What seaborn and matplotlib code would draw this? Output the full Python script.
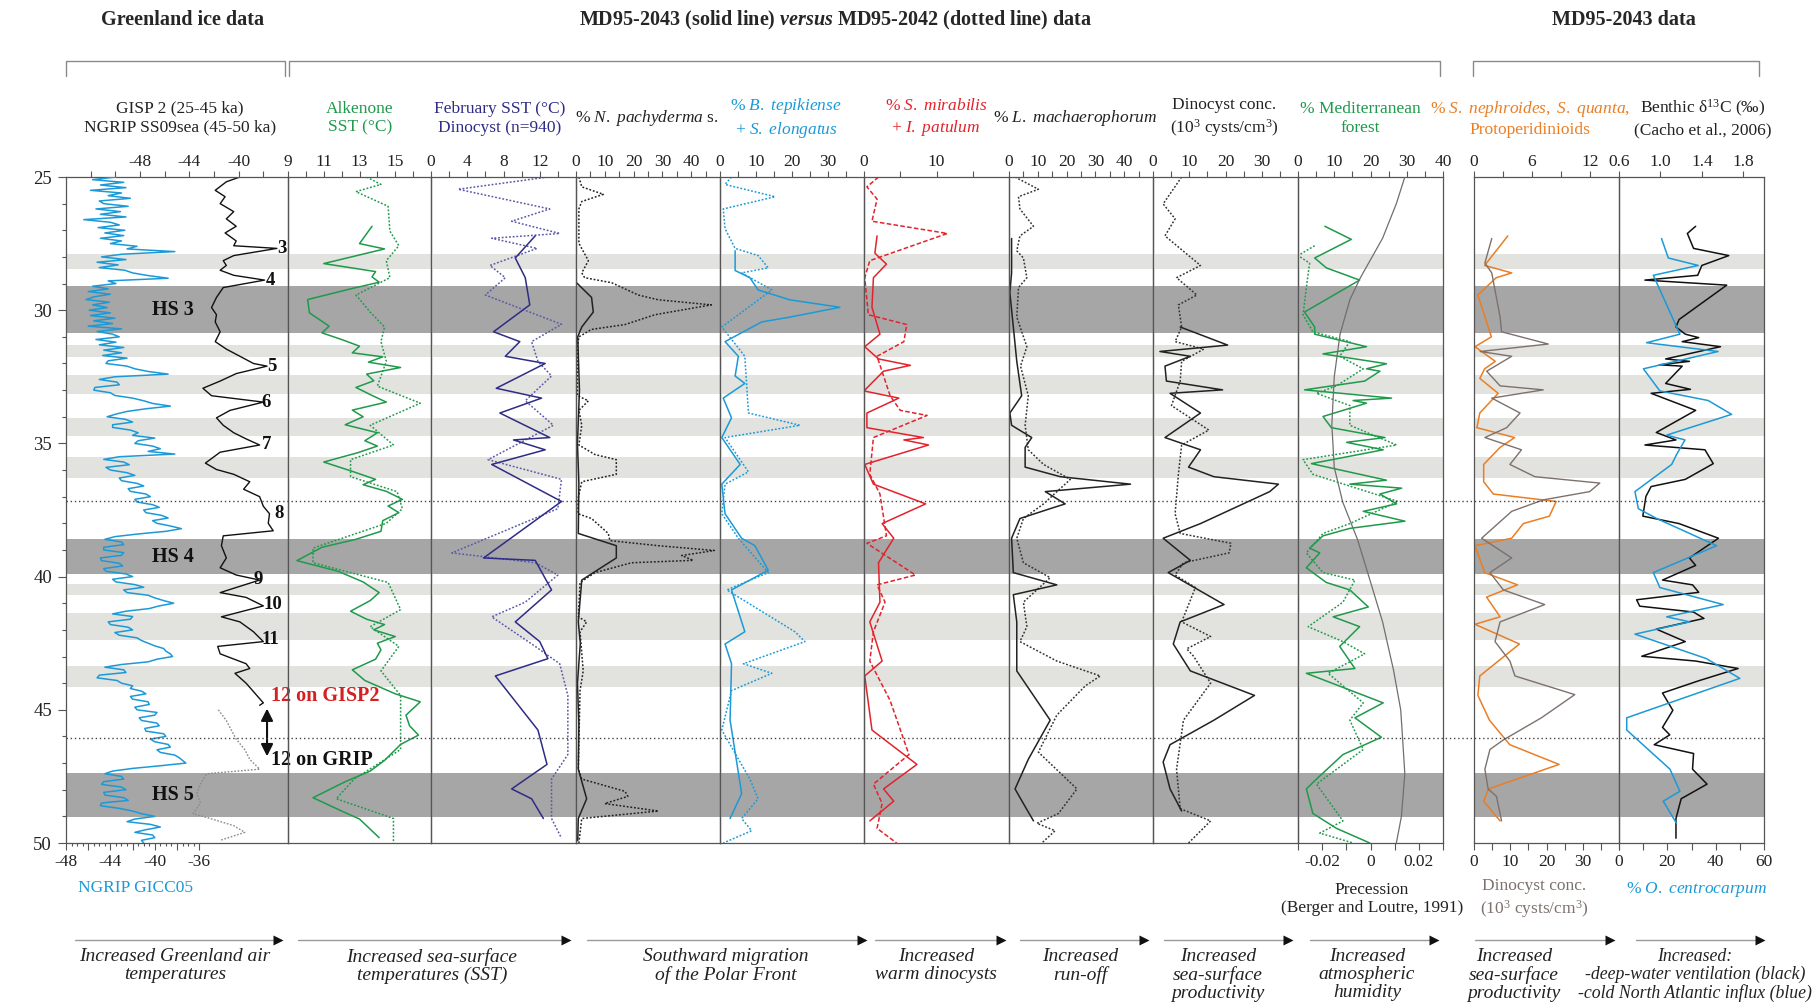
import numpy as np
import seaborn as sns
import matplotlib.pyplot as plt
from matplotlib import transforms

sns.set_theme(style="white")
plt.rcParams['font.family'] = ['Liberation Serif', 'DejaVu Serif']
plt.rcParams['mathtext.fontset'] = 'custom'
plt.rcParams['mathtext.rm'] = 'Liberation Serif'
plt.rcParams['mathtext.it'] = 'Liberation Serif:style=italic'
plt.rcParams['mathtext.bf'] = 'Liberation Serif:style=italic:weight=bold'

# ---------------- data (age in cal. ka BP) ----------------
# Greenland ice: NGRIP GICC05, one value every 0.1 ka from 25 to 50 ka
ngrip_gicc05 = [
    -43.5, -45.6, -42.8, -44.9, -42.6, -45.8, -43.0, -44.2, -42.2, -45.0,
    -44.6, -42.4, -45.3, -43.1, -44.9, -42.6, -46.4, -44.0, -43.2, -45.1,
    -42.7, -44.5, -42.8, -44.9, -43.0, -44.0, -41.6, -42.5, -38.2, -43.0,
    -44.8, -42.6, -45.2, -43.3, -45.0, -42.7, -42.0, -40.6, -38.8, -44.2,
    -43.5, -45.6, -44.2, -46.0, -44.0, -45.5, -46.2, -44.1, -45.6, -44.3,
    -45.9, -44.0, -45.8, -43.6, -45.5, -43.8, -46.0, -43.0, -45.2, -43.8,
    -43.2, -45.3, -43.5, -45.0, -42.8, -44.6, -43.0, -44.7, -42.5, -44.2,
    -44.4, -42.5, -41.8, -40.6, -38.8, -43.6, -45.0, -43.4, -43.2, -45.4,
    -45.5, -44.0, -43.6, -42.0, -41.0, -40.2, -38.6, -40.8, -42.5, -43.5,
    -44.3, -42.6, -42.0, -43.8, -43.8, -42.2, -41.5, -42.0, -40.0, -41.5,
    -41.8, -40.2, -39.5, -40.6, -38.2, -43.2, -44.6, -42.8, -42.3, -44.4,
    -44.0, -42.5, -41.8, -43.2, -43.0, -41.6, -41.0, -42.4, -42.2, -40.8,
    -40.4, -41.8, -41.6, -40.2, -39.6, -41.0, -40.8, -39.4, -38.8, -40.2,
    -39.8, -38.6, -37.6, -39.0, -41.5, -43.6, -44.5, -43.0, -42.8, -44.6,
    -44.6, -42.8, -43.0, -44.9, -44.8, -43.2, -42.9, -44.6, -44.4, -42.6,
    -42.0, -43.8, -43.5, -41.8, -41.0, -42.8, -42.5, -40.6, -40.0, -39.2,
    -38.3, -39.6, -40.5, -42.6, -43.8, -42.0, -42.2, -44.2, -44.0, -42.4,
    -42.0, -43.6, -43.2, -41.6, -41.2, -40.6, -40.0, -39.2, -39.0, -38.6,
    -38.4, -39.8, -40.6, -43.0, -44.5, -42.8, -42.6, -45.0, -45.2, -43.4,
    -43.0, -42.0, -42.2, -41.2, -40.8, -42.2, -42.0, -40.6, -40.5, -41.8,
    -41.6, -39.8, -40.0, -41.4, -41.2, -39.8, -39.6, -40.9, -40.8, -39.2,
    -39.0, -40.4, -40.0, -38.8, -38.6, -39.8, -39.5, -38.2, -37.8, -37.5,
    -37.2, -39.5, -42.0, -43.8, -44.5, -43.0, -42.8, -44.6, -44.8, -43.0,
    -42.6, -44.6, -44.5, -42.8, -42.4, -44.8, -44.9, -43.2, -42.0, -41.2,
    -40.0, -41.8, -42.5, -40.4, -39.5, -40.8, -41.8, -40.2, -40.0, -41.2,
    -41.0]
ngrip_age = np.linspace(25, 50, len(ngrip_gicc05))

gisp2_age = [25.0, 25.18, 25.5, 25.74, 26.0, 26.3, 26.57, 26.85, 27.1, 27.4, 27.58, 27.68,
             27.95, 28.14, 28.32, 28.5, 28.69, 28.87, 29.15, 29.52, 29.9, 30.17, 30.44,
             30.81, 31.18, 31.46, 31.73, 32.0, 32.1, 32.38, 32.66, 32.93, 33.21, 33.45,
             33.76, 34.04, 34.32, 34.6, 34.83, 35.06, 35.33, 35.74, 35.98, 36.16, 36.44,
             36.72, 37.0, 37.36, 37.64, 38.0, 38.28, 38.47, 38.84, 39.3, 39.67, 39.94,
             40.13, 40.6, 40.78, 41.1, 41.51, 41.7, 42.07, 42.44, 42.62, 42.9, 43.27,
             43.45, 43.63, 44.0, 44.37, 44.74, 44.83]
gisp2_d18o = [-39.9, -41.0, -41.9, -41.1, -41.5, -40.4, -41.0, -40.2, -41.1, -40.2, -40.4, -36.9,
              -40.4, -41.25, -41.0, -41.5, -40.4, -37.9, -41.25, -41.8, -42.2, -41.8, -41.9,
              -41.5, -41.9, -41.0, -39.9, -38.8, -37.7, -40.2, -41.5, -42.9, -42.2, -38.0,
              -40.7, -41.8, -41.25, -40.4, -39.4, -38.3, -41.5, -42.7, -41.8, -40.4, -39.1,
              -39.6, -38.3, -38.0, -37.5, -37.6, -37.2, -41.25, -41.4, -41.0, -41.5, -40.2,
              -38.3, -41.5, -39.4, -38.0, -41.4, -39.9, -38.8, -38.0, -41.7, -41.5, -39.4,
              -39.1, -40.3, -39.4, -38.7, -38.0, -38.3]
ss09_age = [45.0, 45.4, 45.76, 46.1, 46.5, 46.86, 47.23, 47.4, 47.8, 48.15, 48.5, 48.9,
            49.08, 49.35, 49.6, 49.9]
ss09_d18o = [-41.65, -41.0, -40.6, -40.2, -39.5, -39.1, -38.3, -42.6, -43.1, -43.4, -43.1,
             -43.7, -42.3, -40.4, -39.5, -41.5]

# Alkenone SST
alk43_age = [26.85, 27.5, 27.7, 28.25, 28.55, 28.75, 28.95, 29.2, 29.6, 30.1, 30.6, 30.85,
             31.1, 31.35, 31.6, 31.75, 31.95, 32.15, 32.4, 32.65, 32.9, 33.2, 33.45, 33.75,
             34.0, 34.3, 34.6, 34.9, 35.1, 35.35, 35.7, 36.05, 36.35, 36.55, 36.8, 37.1,
             37.35, 37.6, 37.9, 38.3, 38.6, 38.9, 39.4, 39.8, 40.2, 40.6, 40.9, 41.3, 41.6,
             41.8, 42.0, 42.25, 42.5, 42.75, 43.1, 43.5, 43.9, 44.4, 44.7, 45.2, 45.6,
             45.95, 46.3, 46.9, 47.3, 47.7, 48.3, 48.8, 49.1, 49.8]
alk43_sst = [13.7, 13.0, 14.4, 11.0, 13.9, 13.7, 14.1, 12.5, 10.1, 10.2, 11.3, 10.9,
             12.0, 13.0, 12.6, 14.3, 13.5, 15.3, 13.4, 13.8, 12.8, 13.7, 14.5, 12.6,
             13.2, 12.2, 14.0, 13.3, 14.0, 12.9, 11.0, 12.6, 13.9, 13.2, 14.5, 15.4,
             14.6, 15.2, 14.3, 14.2, 12.8, 10.9, 9.5, 11.8, 13.2, 14.1, 13.6, 12.5, 13.4,
             14.4, 13.8, 15.0, 14.0, 14.2, 13.9, 12.6, 13.3, 15.0, 16.4, 15.6, 15.8,
             16.3, 15.3, 14.4, 13.6, 12.2, 10.4, 12.0, 13.0, 14.1]
alk42_age = [25.0, 25.28, 25.55, 26.1, 27.03, 27.58, 28.14, 28.78, 29.43, 30.07, 30.63, 31.18,
             31.92, 32.85, 33.49, 34.32, 35.06, 35.61, 36.25, 36.81, 37.45, 38.0, 38.93,
             39.48, 40.22, 41.24, 41.88, 42.62, 43.54, 44.46, 46.49, 47.6, 48.34, 49.08, 50.0]
alk42_sst = [13.4, 14.2, 12.8, 14.6, 14.7, 15.2, 14.5, 14.7, 12.8, 13.6, 14.4, 14.2,
             14.5, 14.0, 16.4, 13.6, 14.9, 12.5, 12.5, 15.1, 15.4, 14.5, 10.4,
             10.4, 14.6, 15.3, 13.6, 15.2, 14.2, 15.3, 15.3, 12.7, 11.7, 14.9, 14.9]

# February SST (dinocysts)
feb43_age = [27.21, 28.04, 28.78, 29.8, 30.81, 31.18, 31.73, 32.0, 32.93, 33.3, 33.86, 34.78,
             34.87, 35.24, 35.79, 37.18, 39.3, 39.39, 40.5, 41.7, 42.44, 43.08, 43.73,
             45.76, 47.05, 47.97, 48.34, 49.08]
feb43_sst = [11.5, 9.3, 10.4, 10.9, 6.9, 9.8, 8.2, 12.6, 7.2, 12.2, 7.6, 13.1,
             9.1, 12.6, 6.7, 14.4, 5.8, 11.5, 13.3, 9.3, 12.0, 12.9, 7.1,
             11.8, 12.8, 8.9, 11.1, 12.4]
feb42_age = [25.0, 25.46, 26.2, 26.66, 27.12, 27.3, 27.68, 28.32, 28.78, 29.43, 30.53, 31.18,
             31.92, 32.47, 33.4, 34.32, 35.61, 36.35, 37.45, 39.11, 39.48, 39.94, 40.96,
             41.51, 42.62, 43.27, 44.46, 46.68, 47.6, 49.08, 49.82]
feb42_sst = [12.9, 3.0, 13.1, 8.9, 14.2, 6.7, 11.7, 6.5, 8.2, 6.0, 14.4, 11.1,
             11.8, 13.3, 10.4, 13.5, 6.3, 14.4, 14.0, 2.3, 11.5, 14.0, 10.4,
             6.7, 11.5, 14.2, 15.1, 15.1, 13.3, 13.3, 14.4]

# % N. pachyderma s.
pach42_age = [25.0, 25.37, 25.65, 25.92, 26.2, 27.49, 28.14, 28.6, 28.78, 28.97, 29.43, 29.61,
              29.8, 30.17, 30.54, 30.72, 31.0, 31.37, 33.21, 33.4, 33.76, 34.32, 35.06, 35.42,
              35.61, 36.16, 36.44, 37.08, 37.64, 37.82, 38.38, 38.65, 38.84, 39.02, 39.21,
              39.39, 39.48, 39.85, 40.22, 41.51, 41.7, 42.07, 43.54, 44.28, 47.23, 47.6,
              48.06, 48.25, 48.52, 48.8, 49.08, 50.0]
pach42_pct = [1.0, 2.0, 9.5, 2.0, 1.0, 1.0, 4.3, 2.0, 3.0, 12.4, 21.6, 28.6,
              47.0, 27.4, 17.0, 5.4, 1.0, 0.5, 0.5, 4.3, 1.0, 2.0, 1.0, 6.6,
              14.0, 14.0, 2.0, 0.7, 0.7, 5.4, 11.2, 11.8, 28.6, 48.0, 36.7,
              40.7, 19.3, 6.6, 1.4, 0.8, 3.7, 1.4, 2.5, 1.4, 0.8, 2.0,
              17.0, 18.0, 10.0, 28.6, 2.0, 1.0]
pach43_age = [28.97, 29.52, 30.07, 30.63, 31.0, 33.0, 35.0, 36.5, 38.38, 38.84, 39.3, 40.13,
              41.7, 42.5, 44.0, 45.5, 47.23, 48.34, 49.08, 49.91]
pach43_pct = [0.2, 5.4, 6.0, 2.0, 0.6, 1.2, 0.5, 1.0, 0.8, 14.0, 14.0, 2.0,
              0.8, 1.5, 0.5, 1.0, 0.8, 3.7, 0.8, 0.6]

# % B. tepikiense + S. elongatus
tep42_age = [25.0, 25.28, 25.74, 26.2, 26.94, 27.68, 27.95, 28.41, 28.6, 29.24, 30.63, 31.73,
             33.86, 34.32, 34.78, 36.07, 36.53, 37.64, 38.56, 39.85, 40.5, 42.07, 42.44,
             43.27, 43.63, 44.28, 45.76, 47.6, 48.34, 49.08, 49.54, 50.0]
tep42_pct = [3.2, 1.4, 15.3, 0.9, 1.4, 4.2, 10.6, 13.4, 6.0, 14.4, 0.5, 6.9,
             7.9, 22.2, 1.4, 7.9, 1.4, 0.5, 5.1, 13.4, 1.9, 20.8, 23.6,
             6.5, 14.4, 3.2, 0.5, 8.3, 10.6, 6.0, 8.8, 0.9]
tep43_age = [27.77, 28.51, 28.78, 29.24, 29.61, 29.89, 30.26, 30.44, 31.18, 31.73, 32.47, 32.75,
             33.3, 34.04, 34.78, 35.79, 36.53, 37.64, 38.56, 38.84, 39.76, 40.5, 42.07,
             42.53, 43.27, 45.39, 47.79, 48.15, 49.08]
tep43_pct = [4.2, 4.2, 8.3, 10.6, 19.4, 33.3, 19.4, 11.6, 1.4, 5.1, 4.2, 6.9,
             0.9, 3.2, 0.5, 5.6, 0.5, 1.4, 6.0, 9.7, 13.4, 3.2, 6.9,
             1.4, 3.2, 2.8, 5.6, 6.0, 2.8]

# % S. mirabilis + I. patulum
mir42_age = [25.0, 25.37, 25.83, 26.66, 27.12, 28.14, 28.78, 30.17, 30.54, 31.18, 31.73, 33.21,
             33.76, 33.95, 34.78, 36.16, 36.9, 38.47, 38.75, 39.94, 40.31, 40.96, 42.07,
             43.17, 44.65, 46.68, 47.79, 48.52, 49.45, 50.0]
mir42_pct = [2.0, 0.4, 1.8, 1.1, 11.5, 0.8, 0.1, 0.6, 5.9, 5.5, 1.8, 3.6,
             5.0, 8.7, 1.3, 0.8, 2.2, 3.1, 0.4, 7.1, 1.8, 2.9, 1.3,
             0.8, 3.6, 6.2, 1.3, 2.5, 1.8, 4.5]
mir43_age = [27.21, 27.86, 28.27, 28.78, 29.89, 30.9, 31.37, 31.83, 32.07, 32.29, 33.03, 33.3,
             33.86, 34.41, 34.78, 34.87, 35.06, 35.79, 36.53, 37.27, 38.01, 38.56, 39.48,
             40.96, 41.7, 43.17, 43.73, 45.76, 47.05, 47.97, 48.43, 49.17]
mir43_pct = [1.8, 1.5, 3.1, 1.3, 1.1, 2.2, 0.1, 2.0, 6.4, 2.7, 0.0, 4.8,
             0.4, 0.4, 8.2, 5.5, 8.9, 0.1, 1.3, 8.5, 2.5, 4.1, 2.0,
             2.2, 0.8, 2.5, 0.1, 1.1, 7.3, 2.7, 4.1, 0.8]

# % L. machaerophorum
lma42_age = [25.0, 25.46, 25.74, 26.2, 26.85, 27.21, 27.77, 28.04, 28.78, 29.15, 30.26, 31.37,
             32.1, 33.21, 34.32, 35.24, 35.79, 36.35, 37.27, 37.82, 38.56, 39.48, 40.04,
             40.96, 41.88, 42.44, 43.17, 43.73, 44.1, 45.2, 46.59, 47.97, 48.89, 49.26,
             49.54, 50.0]
lma42_pct = [2.1, 10.2, 3.3, 3.8, 8.5, 3.8, 2.7, 5.0, 6.2, 3.3, 2.7, 6.2,
             4.0, 6.7, 5.6, 6.7, 12.0, 21.3, 12.0, 5.0, 2.7, 5.0, 14.3,
             5.0, 6.2, 3.8, 16.6, 31.7, 26.5, 16.6, 10.2, 23.6, 17.2, 9.7,
             16.0, 11.4]
lma43_age = [27.31, 28.6, 29.34, 30.63, 31.92, 33.21, 33.86, 34.32, 34.78, 35.15, 35.89, 36.25,
             36.53, 36.81, 37.27, 37.45, 37.82, 38.56, 39.85, 40.31, 40.68, 41.7, 43.54,
             45.39, 46.86, 47.97, 48.52, 49.17]
lma43_pct = [0.9, 0.9, 0.3, 1.5, 2.7, 4.4, 0.3, 0.9, 7.9, 5.6, 5.6, 17.8,
             42.2, 12.6, 19.5, 14.3, 3.8, 0.9, 1.5, 16.6, 1.5, 2.7, 2.7,
             14.3, 6.7, 2.1, 5.0, 8.5]

# Dinocyst concentration (10^3 cysts/cm3)
dc42_age = [25.0, 26.01, 26.57, 27.21, 28.32, 28.78, 29.43, 29.8, 30.63, 31.18, 31.46, 31.92,
            32.66, 33.58, 34.5, 35.06, 36.16, 37.64, 38.38, 38.75, 39.11, 39.48, 39.94,
            40.41, 41.7, 42.25, 42.71, 42.99, 44.0, 45.39, 47.23, 48.71, 49.17, 50.0]
dc42_val = [7.9, 2.8, 6.1, 3.3, 13.1, 6.5, 12.1, 7.0, 7.9, 6.1, 14.0, 7.9,
            7.5, 5.1, 15.4, 7.9, 7.0, 6.1, 7.5, 21.5, 21.0, 8.4, 6.1,
            11.7, 7.9, 15.9, 9.3, 11.2, 15.9, 8.4, 6.5, 7.5, 15.9, 9.8]
dc43_age = [30.63, 31.31, 31.55, 31.73, 32.1, 32.66, 32.99, 33.12, 33.86, 34.78, 35.24, 35.89,
            36.25, 36.53, 36.81, 38.01, 38.56, 39.39, 39.85, 41.05, 41.7, 42.53, 43.54,
            44.46, 45.39, 46.31, 46.96, 47.97, 48.8]
dc43_val = [7.5, 20.6, 1.9, 10.3, 3.3, 3.7, 19.2, 4.7, 13.1, 3.3, 13.1, 9.8,
            16.8, 34.6, 32.2, 13.1, 2.8, 10.3, 4.2, 19.6, 7.5, 5.6, 10.3,
            28.0, 16.8, 4.7, 2.8, 4.7, 7.9]

# % Mediterranean forest and precession
for43_age = [26.85, 27.34, 28.04, 28.41, 28.87, 30.07, 30.63, 30.9, 31.37, 31.64, 32.01, 32.2,
             32.29, 32.66, 32.99, 33.3, 33.39, 33.49, 33.99, 34.41, 34.78, 34.96, 35.24,
             35.76, 36.38, 36.53, 36.68, 36.9, 37.27, 37.55, 37.92, 38.19, 38.47, 38.93,
             39.11, 39.67, 40.22, 40.5, 41.14, 41.51, 41.88, 42.62, 43.45, 43.63, 44.74,
             45.3, 46.03, 46.68, 47.6, 47.97, 48.89, 49.45, 50.0]
for43_pct = [7.4, 14.7, 4.6, 7.8, 17.0, 1.8, 4.6, 4.6, 18.9, 6.9, 24.4, 18.9,
             22.6, 18.4, 1.8, 25.8, 15.2, 18.9, 6.9, 9.2, 24.0, 13.4, 23.5,
             3.7, 24.4, 14.3, 28.6, 22.6, 27.2, 18.0, 29.5, 14.3, 6.9, 3.2,
             6.0, 2.3, 7.8, 14.3, 19.4, 9.7, 17.0, 11.5, 15.7, 2.3, 23.5,
             15.7, 23.0, 12.4, 5.1, 2.3, 4.1, 10.6, 19.8]
for42_age = [27.58, 27.95, 28.23, 29.15, 30.17, 30.81, 31.18, 31.73, 32.2, 32.84, 33.12, 33.58,
             34.32, 35.06, 35.61, 36.16, 37.18, 38.01, 38.38, 39.11, 39.85, 40.13, 40.96,
             41.88, 42.44, 42.9, 43.63, 44.74, 45.39, 46.49, 47.79, 49.17, 49.63, 50.0]
for42_pct = [4.6, 0.0, 3.2, 2.3, 1.4, 4.1, 14.3, 11.5, 18.0, 10.6, 5.1, 14.3,
             14.3, 27.2, 1.4, 4.1, 27.6, 14.3, 6.9, 2.3, 6.9, 15.7, 12.4,
             2.8, 12.4, 18.4, 8.3, 18.0, 14.3, 18.0, 5.1, 12.4, 6.0, 15.2]
prec_age = [25.0, 26.0, 27.3, 28.8, 29.6, 30.9, 32.5, 34.3, 35.9, 37.2, 38.6, 40.2, 41.7,
            43.5, 45.0, 46.1, 47.4, 49.0, 50.0]
prec_val = [0.0142, 0.0107, 0.005, -0.0043, -0.0085, -0.0126, -0.0150, -0.0160, -0.0150,
            -0.0115, -0.0054, 0.0, 0.005, 0.0095, 0.0125, 0.0133, 0.0142, 0.0128, 0.0107]

# MD95-2043: S. nephroides/S. quanta/Protoperidinioids and dinocyst conc.
neph_age = [27.21, 28.32, 28.6, 28.78, 29.43, 31.0, 31.37, 31.92, 32.2, 32.56, 33.12, 33.86,
            34.41, 34.78, 35.15, 35.79, 36.44, 36.9, 37.18, 37.73, 38.01, 38.56, 38.84,
            39.85, 40.31, 40.77, 41.51, 41.79, 42.53, 43.73, 44.46, 45.39, 46.31, 47.05,
            47.97, 48.43, 49.17]
neph_pct = [3.5, 1.1, 3.9, 2.3, 0.4, 1.8, 0.1, 2.2, 1.1, 0.6, 2.5, 0.6,
            0.3, 4.2, 2.7, 1.0, 1.0, 2.0, 8.5, 7.8, 5.1, 3.9, 0.1,
            1.1, 4.5, 1.3, 2.7, 0.1, 4.7, 0.6, 0.4, 1.6, 3.7, 8.8,
            1.5, 1.0, 2.7]
conc_age = [27.31, 28.23, 28.6, 30.26, 30.81, 31.27, 31.55, 31.73, 32.29, 32.84, 32.99, 33.3,
            33.86, 34.41, 34.78, 35.24, 35.79, 36.25, 36.49, 36.81, 37.12, 37.55, 38.56,
            39.3, 39.85, 40.5, 41.05, 41.7, 42.44, 43.17, 43.73, 44.43, 45.3, 46.13, 46.49,
            47.23, 47.97, 48.25, 49.17]
conc_val = [4.9, 3.0, 4.9, 7.2, 7.6, 20.5, 1.7, 10.4, 3.5, 7.2, 19.1, 4.9,
            12.7, 9.0, 3.0, 13.1, 9.9, 16.8, 34.7, 31.9, 19.1, 10.4, 2.1,
            10.4, 4.4, 8.1, 19.5, 7.2, 5.8, 9.9, 11.3, 27.8, 18.6, 8.1, 4.4,
            3.0, 3.9, 6.2, 7.6]

# Benthic d13C and % O. centrocarpum
d13c_age = [26.85, 27.12, 27.68, 27.95, 28.32, 28.69, 28.87, 29.06, 30.35, 30.63, 30.9, 31.03,
            31.18, 31.37, 31.83, 31.92, 32.05, 32.1, 32.75, 32.97, 33.12, 33.76, 34.59,
            34.87, 35.06, 35.24, 35.76, 36.35, 36.62, 36.99, 37.73, 38.01, 38.56, 39.3,
            39.58, 40.13, 40.31, 40.59, 40.87, 41.11, 41.33, 41.57, 41.97, 42.44, 42.99,
            43.17, 43.45, 43.91, 44.37, 45.02, 45.66, 45.94, 46.31, 46.64, 47.23, 47.79,
            48.34, 49.08, 49.82]
d13c_val = [1.34, 1.26, 1.32, 1.66, 1.40, 1.36, 0.85, 1.64, 1.18, 1.15, 1.24, 1.37,
            1.21, 1.58, 1.05, 1.28, 0.99, 1.21, 1.05, 1.29, 0.91, 1.34, 0.96,
            1.15, 0.85, 1.43, 1.51, 1.24, 0.91, 0.86, 0.83, 1.18, 1.56, 1.28,
            1.34, 1.02, 1.31, 1.37, 0.77, 0.80, 1.32, 1.42, 0.96, 1.24, 0.82,
            1.34, 1.75, 1.37, 1.02, 1.12, 1.02, 1.09, 0.94, 1.32, 1.31, 1.45,
            1.20, 1.15, 1.15]
ocen_age = [27.31, 28.04, 28.32, 28.69, 30.9, 31.22, 31.55, 32.2, 33.03, 33.39, 33.91, 34.69,
            34.87, 35.42, 35.79, 36.81, 37.45, 37.82, 38.84, 39.85, 40.41, 41.05, 41.51,
            41.7, 42.16, 43.08, 43.82, 45.3, 45.76, 47.23, 48.06, 48.43, 49.26]
ocen_pct = [17.6, 20.4, 32.8, 14.2, 25.2, 11.4, 41.0, 10.1, 16.9, 36.9, 46.6, 19.7,
            27.3, 23.8, 21.8, 6.6, 8.0, 15.6, 40.4, 14.2, 16.9, 43.1, 19.7,
            29.3, 6.6, 36.2, 50.0, 3.2, 3.2, 21.1, 25.2, 18.3, 23.8]

# events
hs_bands = [(29.1, 30.87), (38.6, 39.9), (47.38, 49.02)]
gi_bands = [(27.9, 28.45), (31.29, 31.77), (32.44, 33.15), (34.04, 34.74), (35.5, 36.31),
            (40.26, 40.7), (41.37, 42.38), (43.36, 44.13)]
dotted_ages = [37.18, 46.07]

# ---------------- styling ----------------
BLUE = '#1b9ad7'
GREEN = '#1f9a4b'
NAVY = '#2e2c85'
RED = '#e3232c'
ORANGE = '#ea7e24'
BROWN = '#7d716d'
SPINE = '#555555'
FS = 12.5
DOT = (0, (1.2, 1.2))
DASH = (0, (3, 1.5))

W, H = 1816, 1005
TOP, BOT = 177, 843
fig = plt.figure(figsize=(W / 100, H / 100), dpi=100)
fig.patch.set_facecolor('white')


def make_panel(x0, x1, xlim, ticks, labels):
    ax = fig.add_axes([x0 / W, 1 - BOT / H, (x1 - x0) / W, (BOT - TOP) / H])
    ax.set_facecolor('none')
    for a, b in hs_bands:
        ax.axhspan(a, b, color='#a6a6a6', lw=0, zorder=0)
    for a, b in gi_bands:
        ax.axhspan(a, b, color='#e2e2de', lw=0, zorder=0)
    for s in ax.spines.values():
        s.set_color(SPINE)
        s.set_linewidth(0.9)
    ax.set_xlim(*xlim)
    ax.set_ylim(50, 25)
    ax.xaxis.set_ticks_position('top')
    ax.set_xticks(ticks)
    ax.set_xticklabels(labels)
    ax.tick_params(axis='x', direction='out', length=4, width=0.8, color=SPINE,
                   labelsize=FS, labelcolor='#222222', pad=1)
    ax.tick_params(axis='y', left=False, labelleft=False)
    return ax


def bottom_axis(ax, xlim, ticks, labels, minor=None):
    tw = ax.twiny()
    # twiny() moves the host ticks to the bottom: put them back on top
    ax.xaxis.set_ticks_position('top')
    tw.set_facecolor('none')
    for s in tw.spines.values():
        s.set_visible(False)
    tw.set_xlim(*xlim)
    tw.xaxis.set_ticks_position('bottom')
    tw.set_xticks(ticks)
    tw.set_xticklabels(labels)
    if minor is not None:
        tw.set_xticks(minor, minor=True)
    tw.tick_params(axis='x', which='major', direction='out', length=5, width=0.8,
                   color=SPINE, labelsize=FS, labelcolor='#222222', pad=3)
    tw.tick_params(axis='x', which='minor', direction='out', length=2.5, width=0.8,
                   color=SPINE)
    return tw


def prof(ax, vals, ages, color, ls='-', lw=1.1):
    xl, yl = ax.get_xlim(), ax.get_ylim()
    sns.lineplot(x=vals, y=ages, ax=ax, sort=False, estimator=None, color=color,
                 linestyle=ls, linewidth=lw)
    ax.set_xlim(*xl)
    ax.set_ylim(*yl)
    ax.set_xlabel('')
    ax.set_ylabel('')


def lab(vals, shown):
    return [('%g' % v if v in shown else '') for v in vals]


# panel 1: Greenland ice
t = [-52, -50, -48, -46, -44, -42, -40, -38]
ax1 = make_panel(66, 288, (-54, -36), t, lab(t, [-48, -44, -40]))
t = [-48, -46, -44, -42, -40, -38, -36]
ax1b = bottom_axis(ax1, (-48, -28), t, lab(t, [-48, -44, -40, -36]),
                   minor=np.arange(-48, -35.5, 0.5))
prof(ax1b, ngrip_gicc05, ngrip_age, BLUE, lw=1.1)
prof(ax1, gisp2_d18o, gisp2_age, '#111111', lw=1.0)
prof(ax1, ss09_d18o, ss09_age, '#8a8a8a', ls=DOT, lw=1.0)
ax1.tick_params(axis='y', which='major', left=True, labelleft=True, direction='out',
                length=6, width=0.8, color=SPINE, labelsize=FS + 1,
                labelcolor='#222222', pad=4)
ax1.set_yticks([25, 30, 35, 40, 45, 50])
ax1.set_yticks(np.arange(25, 51, 1), minor=True)
ax1.tick_params(axis='y', which='minor', left=True, direction='out', length=3,
                width=0.8, color=SPINE)
ax1.set_ylabel('Age (cal. ka BP)', fontsize=FS + 1, labelpad=8)
for s, x, y in [('3', -36.5, 27.7), ('4', -37.4, 28.9), ('5', -37.3, 32.1),
                ('6', -37.8, 33.45), ('7', -37.7, 35.06), ('8', -36.7, 37.64),
                ('9', -38.4, 40.1), ('10', -37.2, 41.05), ('11', -37.4, 42.35)]:
    ax1.text(x, y, s, ha='center', va='center', fontsize=FS + 1, weight='bold',
             color='#111111')
for s, y in [('HS 3', 30.0), ('HS 4', 39.25), ('HS 5', 48.2)]:
    ax1.text(-45.3, y, s, ha='center', va='center', fontsize=FS + 2, weight='bold',
             color='#111111')
ax1.text(-37.4, 44.48, '12 on GISP2', ha='left', va='center', fontsize=FS + 2,
         weight='bold', color='#d42020')
ax1.text(-37.4, 46.9, '12 on GRIP', ha='left', va='center', fontsize=FS + 2,
         weight='bold', color='#111111')
ax1.annotate('', xy=(-37.7, 44.85), xytext=(-37.7, 46.85),
             arrowprops=dict(arrowstyle='<|-|>', color='#111111', lw=1.5,
                             mutation_scale=18))

# panel 2: alkenone SST
t = list(range(9, 17))
ax2 = make_panel(288, 431, (9, 17), t, lab(t, [9, 11, 13, 15]))
prof(ax2, alk42_sst, alk42_age, GREEN, ls=DOT)
prof(ax2, alk43_sst, alk43_age, GREEN)

# panel 3: February SST
t = list(range(0, 16, 2))
ax3 = make_panel(431, 576, (0, 16), t, lab(t, [0, 4, 8, 12]))
prof(ax3, feb42_sst, feb42_age, '#5b59a8', ls=DOT)
prof(ax3, feb43_sst, feb43_age, NAVY)

# panel 4: N. pachyderma
t = list(range(0, 50, 5))
ax4 = make_panel(576, 720, (0, 50), t, lab(t, [0, 10, 20, 30, 40]))
prof(ax4, pach42_pct, pach42_age, '#222222', ls=DOT)
prof(ax4, pach43_pct, pach43_age, '#222222')

# panel 5: B. tepikiense
t = list(range(0, 40, 5))
ax5 = make_panel(720, 864, (0, 40), t, lab(t, [0, 10, 20, 30]))
prof(ax5, tep42_pct, tep42_age, BLUE, ls=DOT)
prof(ax5, tep43_pct, tep43_age, BLUE)

# panel 6: S. mirabilis
t = [0, 5, 10, 15]
ax6 = make_panel(864, 1009, (0, 20), t, lab(t, [0, 10]))
prof(ax6, mir42_pct, mir42_age, RED, ls=DASH)
prof(ax6, mir43_pct, mir43_age, RED)

# panel 7: L. machaerophorum
t = list(range(0, 50, 5))
ax7 = make_panel(1009, 1153, (0, 50), t, lab(t, [0, 10, 20, 30, 40]))
prof(ax7, lma42_pct, lma42_age, '#333333', ls=DOT)
prof(ax7, lma43_pct, lma43_age, '#222222')

# panel 8: dinocyst concentration
t = list(range(0, 40, 5))
ax8 = make_panel(1153, 1298, (0, 40), t, lab(t, [0, 10, 20, 30]))
prof(ax8, dc42_val, dc42_age, '#333333', ls=DOT)
prof(ax8, dc43_val, dc43_age, '#222222')

# panel 9: Mediterranean forest + precession
t = list(range(0, 41, 5))
ax9 = make_panel(1298, 1443, (0, 40), t, lab(t, [0, 10, 20, 30, 40]))
t = [-0.03, -0.02, -0.01, 0, 0.01, 0.02, 0.03]
ax9b = bottom_axis(ax9, (-0.03, 0.03), t, ['', '-0.02', '', '0', '', '0.02', ''])
prof(ax9b, prec_val, prec_age, '#6f6f6f', lw=0.9)
prof(ax9, for42_pct, for42_age, GREEN, ls=DOT)
prof(ax9, for43_pct, for43_age, GREEN)

# panel 10: S. nephroides + dinocyst conc.
t = [0, 3, 6, 9, 12]
ax10 = make_panel(1474, 1619, (0, 15), t, lab(t, [0, 6, 12]))
t = list(range(0, 41, 5))
ax10b = bottom_axis(ax10, (0, 40), t, lab(t, [0, 10, 20, 30]))
prof(ax10b, conc_val, conc_age, BROWN, lw=1.0)
prof(ax10, neph_pct, neph_age, ORANGE, lw=1.1)

# panel 11: benthic d13C + O. centrocarpum
ax11 = make_panel(1619, 1764, (0.6, 2.0), [0.6, 1.0, 1.4, 1.8], ['0.6', '1.0', '1.4', '1.8'])
t = list(range(0, 61, 10))
ax11b = bottom_axis(ax11, (0, 60), t, lab(t, [0, 20, 40, 60]))
prof(ax11b, ocen_pct, ocen_age, BLUE, lw=1.1)
prof(ax11, d13c_val, d13c_age, '#111111', lw=1.1)

for ax in [ax1, ax2, ax3, ax4, ax5, ax6, ax7, ax8, ax9, ax10, ax11]:
    ax.xaxis.set_ticks_position('top')
for ax in [ax2, ax3, ax4, ax5, ax6, ax7, ax8, ax9, ax10, ax11]:
    ax.tick_params(axis='y', left=False, labelleft=False)

# ---------------- overlay: titles, headers, arrows ----------------
ov = fig.add_axes([0, 0, 1, 1], zorder=10)
ov.set_xlim(0, W)
ov.set_ylim(H, 0)
ov.axis('off')

trans = transforms.blended_transform_factory(fig.transFigure, ax1.transData)
for a in dotted_ages:
    ov.plot([66 / W, 1764 / W], [a, a], transform=trans, color='#444444', lw=1.0,
            ls=(0, (1, 2)))

TFS = 14.5
ov.text(183, 20, 'Greenland ice data', ha='center', va='center', fontsize=TFS,
        weight='bold')
ov.text(836, 20, r'MD95-2043 (solid line) $\mathbf{versus}$ MD95-2042 (dotted line) data',
        ha='center', va='center', fontsize=TFS, weight='bold')
ov.text(1624, 20, 'MD95-2043 data', ha='center', va='center', fontsize=TFS,
        weight='bold')
for x0, x1 in [(66, 285), (289, 1440), (1473, 1759)]:
    ov.plot([x0, x0, x1, x1], [76, 61, 61, 76], color='#8a8a8a', lw=1.0)

headers = [
    (180, 'GISP 2 (25-45 ka)\nNGRIP SS09sea (45-50 ka)', '#222222'),
    (360, 'Alkenone\nSST (°C)', GREEN),
    (500, 'February SST (°C)\nDinocyst (n=940)', NAVY),
    (647, r'% $\mathit{N.\ pachyderma}$ s.', '#222222'),
    (786, '% $\\mathit{B.\\ tepikiense}$\n+ $\\mathit{S.\\ elongatus}$', BLUE),
    (936, '% $\\mathit{S.\\ mirabilis}$\n+ $\\mathit{I.\\ patulum}$', RED),
    (1075, r'% $\mathit{L.\ machaerophorum}$', '#222222'),
    (1224, 'Dinocyst conc.\n(10$^{3}$ cysts/cm$^{3}$)', '#222222'),
    (1360, '% Mediterranean\nforest', GREEN),
    (1530, '% $\\mathit{S.\\ nephroides,\\ S.\\ quanta,}$\nProtoperidinioids', ORANGE),
    (1703, 'Benthic δ$^{13}$C (‰)\n(Cacho et al., 2006)', '#222222'),
]
for x, s, c in headers:
    ov.text(x, 118, s, ha='center', va='center', fontsize=FS, color=c, linespacing=1.25)

ov.text(135, 888, 'NGRIP GICC05', ha='center', va='center', fontsize=FS, color=BLUE)
ov.text(1372, 899, 'Precession\n(Berger and Loutre, 1991)', ha='center', va='center',
        fontsize=FS, color='#222222', linespacing=1.2)
ov.text(1534, 899, 'Dinocyst conc.\n(10$^{3}$ cysts/cm$^{3}$)', ha='center', va='center',
        fontsize=FS, color=BROWN, linespacing=1.2)
ov.text(1697, 889, r'% $\mathit{O.\ centrocarpum}$', ha='center', va='center',
        fontsize=FS, color=BLUE)

arrows = [
    (75, 282, 175, 14, 'Increased Greenland air\ntemperatures'),
    (298, 570, 432, 14, 'Increased sea-surface\ntemperatures (SST)'),
    (587, 866, 726, 14, 'Southward migration\nof the Polar Front'),
    (875, 1005, 936, 14, 'Increased\nwarm dinocysts'),
    (1020, 1148, 1080, 14, 'Increased\nrun-off'),
    (1164, 1292, 1218, 14, 'Increased\nsea-surface\nproductivity'),
    (1310, 1438, 1367, 14, 'Increased\natmospheric\nhumidity'),
    (1475, 1614, 1514, 14, 'Increased\nsea-surface\nproductivity'),
    (1636, 1764, 1695, 12.8,
     'Increased:\n-deep-water ventilation (black)\n-cold North Atlantic influx (blue)'),
]
for x0, x1, xc, fs, s in arrows:
    ov.plot([x0, x1 - 6], [940, 940], color='#9a9a9a', lw=1.0)
    ov.plot([x1 - 4], [940], marker='>', color='#111111', ms=7, mec='none')
    ov.text(xc, 948, s, ha='center', va='top', fontsize=fs, style='italic',
            color='#222222', linespacing=1.08)

fig.savefig('out.png', dpi=100, facecolor='white')
